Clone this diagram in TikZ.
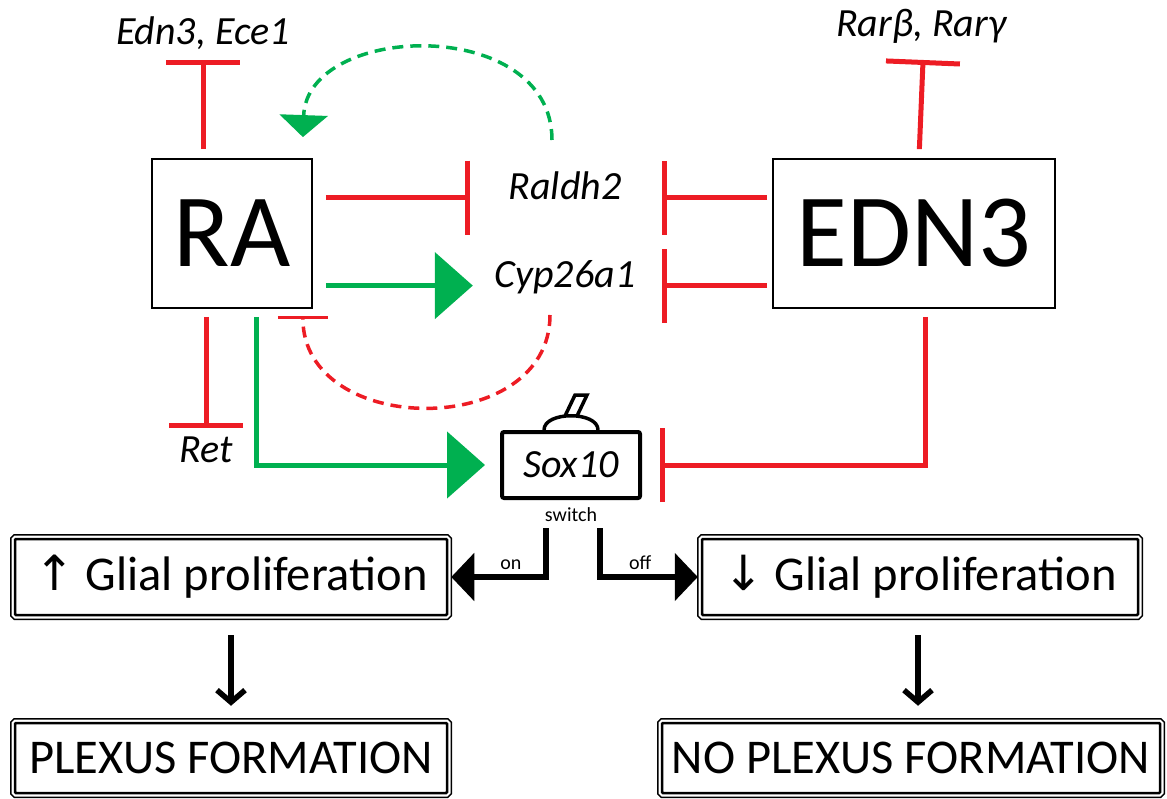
\documentclass[tikz,border=0pt]{standalone}
\usepackage{fontspec}
\setmainfont{Carlito}
\newfontfamily\symfont{DejaVu Sans}
\usepackage{tikz}
\usetikzlibrary{arrows.meta, positioning, backgrounds, calc}

\definecolor{inhred}{RGB}{237,28,36}
\definecolor{actgreen}{RGB}{0,176,80}

\begin{document}
\begin{tikzpicture}[
    x=1pt, y=-1pt,
    hub/.style={rectangle, draw, line width=1.8pt, minimum width=160pt, minimum height=149pt, font=\fontsize{104}{110}\selectfont},
    gene/.style={inner sep=0pt, font=\fontsize{40}{46}\selectfont\itshape},
    switchbox/.style={rectangle, draw, line width=4pt, rounded corners=2pt, minimum width=138pt, minimum height=66pt, font=\fontsize{40}{46}\selectfont\itshape},
    small/.style={inner sep=0pt, font=\fontsize{20}{22}\selectfont},
    outcome/.style={rectangle, draw, fill=white, line width=2.5pt, rounded corners=1pt, minimum height=76pt,
        preaction={draw, line width=10pt}, preaction={draw=white, line width=7pt},
        font=\fontsize{48.5}{54}\selectfont},
    inhib/.style={draw=inhred, line width=5pt, -{Bar[width=74pt]}},
    activ/.style={draw=actgreen, line width=5pt, -{Triangle[length=38pt, width=66pt]}},
    fbpos/.style={draw=actgreen, line width=3.5pt, dash pattern=on 11pt off 7pt, -{Triangle[length=22pt, width=48pt]}},
    fbneg/.style={draw=inhred, line width=3.5pt, dash pattern=on 11pt off 7pt, -{Bar[width=50pt]}},
    flow/.style={draw, line width=5.5pt, -{Triangle[length=23pt, width=47pt]}},
    downarrow/.style={draw, line width=6pt, -{Straight Barb[length=12pt, width=28pt, line width=5.5pt]}}
]
\useasboundingbox (0,0) rectangle (1167,799);

% signalling core
\node[hub] (ra) at (232,233.5) {RA};
\node[hub, minimum width=282pt] (edn) at (914,233.5) {EDN3};
\node[gene, anchor=base, minimum width=150pt] (raldh) at (565,200) {Raldh2};
\node[gene, anchor=base, minimum width=150pt] (cyp) at (565,288) {Cyp26a1};
\node[gene, anchor=base] (ece) at (203,45) {Edn3, Ece1};
\node[gene, anchor=base] (rar) at (921,37) {Rarβ, Rarγ};
\node[gene, anchor=base] (ret) at (206,462) {Ret};
\coordinate (fbg) at (552,140);
\coordinate (fbr) at (550,315);

% switch
\node[switchbox] (sox) at (571,465) {Sox10};
\node[small, below=7pt of sox] (swlab) {switch};
\begin{scope}[on background layer]
\draw[line width=3.5pt, fill=white] ([xshift=-6pt, yshift=14pt]sox.north) -- ++(10,-21) -- ++(12,0) -- ++(-10,21) -- cycle;
\draw[line width=3.5pt, fill=white] ([xshift=-27pt]sox.north) .. controls +(0,-19) and +(0,-19) .. ([xshift=27pt]sox.north);
\end{scope}

% outcomes
\node[outcome, minimum width=432pt] (glup) at (231,577) {{\symfont ↑} Glial proliferation};
\node[outcome, minimum width=436pt] (gldown) at (920,577) {{\symfont ↓} Glial proliferation};
\node[outcome, minimum width=432pt, minimum height=70pt] (plexus) at (231,758) {PLEXUS FORMATION};
\node[outcome, minimum width=498pt, minimum height=70pt] (noplexus) at (911,758) {NO PLEXUS FORMATION};

% interactions
\draw[inhib, shorten <=9pt, shorten >=15pt] (ra.north -| ece) -- (ece.base);
\draw[inhib, shorten <=9pt, shorten >=23pt] ([xshift=5pt]edn.north) -- ([xshift=3pt]rar.base);
\draw[inhib, shorten <=13pt, shorten >=20pt] (ra.east |- raldh.mid) -- (raldh.mid west);
\draw[activ, shorten <=13pt, shorten >=17pt] (ra.east |- cyp.mid) -- (cyp.mid west);
\draw[inhib, shorten <=5pt, shorten >=22pt] (edn.west |- raldh.mid) -- (raldh.mid east);
\draw[inhib, shorten <=5pt, shorten >=22pt] (edn.west |- cyp.mid) -- (cyp.mid east);
\draw[inhib, shorten <=8pt, shorten >=8pt] (ra.south -| ret) -- (ret.north);
\draw[activ, shorten <=8pt, shorten >=15pt] ([xshift=24pt]ra.south) |- (sox.west);
\draw[inhib, shorten <=8pt, shorten >=18pt] ([xshift=11pt]edn.south) |- (sox.east);
\draw[fbpos] (fbg) .. controls +(0,-125) and +(4,-115) .. ([xshift=-10pt, yshift=21pt]ra.north east);
\draw[fbneg] (fbr) .. controls +(0,125) and +(0,122) .. ([xshift=-10pt, yshift=-7pt]ra.south east);

% switch outputs
\draw[flow, shorten <=28pt, shorten >=3pt] ([xshift=-25pt]sox.south) |- node[small, pos=0.68, above=5pt] {on} (glup.east);
\draw[flow, shorten <=28pt, shorten >=3pt] ([xshift=29pt]sox.south) |- node[small, pos=0.7, above=5pt] {off} (gldown.west);
\draw[downarrow, shorten <=19pt, shorten >=16pt] (glup.south) -- (glup.south |- plexus.north);
\draw[downarrow, shorten <=19pt, shorten >=16pt] ([xshift=-2pt]gldown.south) -- ([xshift=-2pt]gldown.south |- noplexus.north);

\end{tikzpicture}
\end{document}
